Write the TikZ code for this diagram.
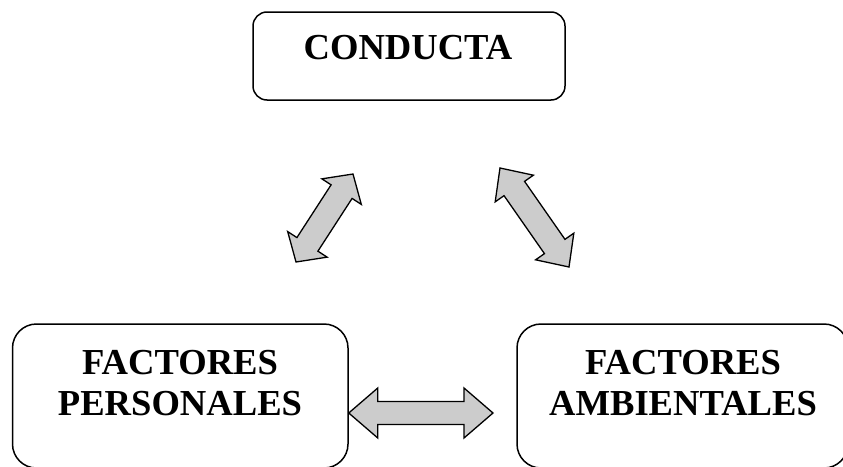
\documentclass[tikz,border=0pt]{standalone}
\usepackage{fontspec}
\setmainfont{Liberation Serif}
\usetikzlibrary{calc}
\tikzset{
  box/.style={draw, line width=1.5pt, rounded corners=#1, inner sep=0pt},
  lbl/.style={font=\bfseries\fontsize{36.6}{41}\selectfont, inner sep=0pt, align=center},
  barrow/.style={draw, fill=black!20, line width=1.3pt, line join=miter}
}
\newcommand\dblblock[5]{%
\draw[barrow] (#1) -- ($(#1)!#3!(#2)!#4!90:(#2)$) -- ($(#1)!#3!(#2)!#5!90:(#2)$)
 -- ($(#2)!#3!(#1)!#5!-90:(#1)$) -- ($(#2)!#3!(#1)!#4!-90:(#1)$) -- (#2)
 -- ($(#2)!#3!(#1)!#4!90:(#1)$) -- ($(#2)!#3!(#1)!#5!90:(#1)$)
 -- ($(#1)!#3!(#2)!#5!-90:(#2)$) -- ($(#1)!#3!(#2)!#4!-90:(#2)$) -- cycle;}
\begin{document}
\begin{tikzpicture}[x=1pt,y=-1pt]
\useasboundingbox (0,0) rectangle (843,466);
\clip (0,0) rectangle (843,466);
\node[box=14pt, minimum width=312pt, minimum height=88pt] (cond) at (409,56) {};
\node[box=24pt, minimum width=335.5pt, minimum height=144pt] (pers) at (180.25,396) {};
\node[box=24pt, minimum width=331pt, minimum height=144pt] (amb) at (682.5,396) {};
\node[lbl, anchor=base] (tcond) at (408,59) {CONDUCTA};
\node[lbl, anchor=north] (tpers) at (180,350) {FACTORES\\PERSONALES};
\node[lbl, anchor=north] (tamb) at (683,350) {FACTORES\\AMBIENTALES};
\coordinate (h1) at (pers.east |- 0,413);
\coordinate (h2) at (493,413);
\coordinate (l1) at (296,262);
\coordinate (l2) at (353,174);
\coordinate (r1) at (500,168);
\coordinate (r2) at (569,267);
\dblblock{h1}{h2}{29pt}{25pt}{11.5pt}
\dblblock{l1}{l2}{21pt}{23.5pt}{12.5pt}
\dblblock{r1}{r2}{25pt}{23.3pt}{12.5pt}
\end{tikzpicture}
\end{document}
